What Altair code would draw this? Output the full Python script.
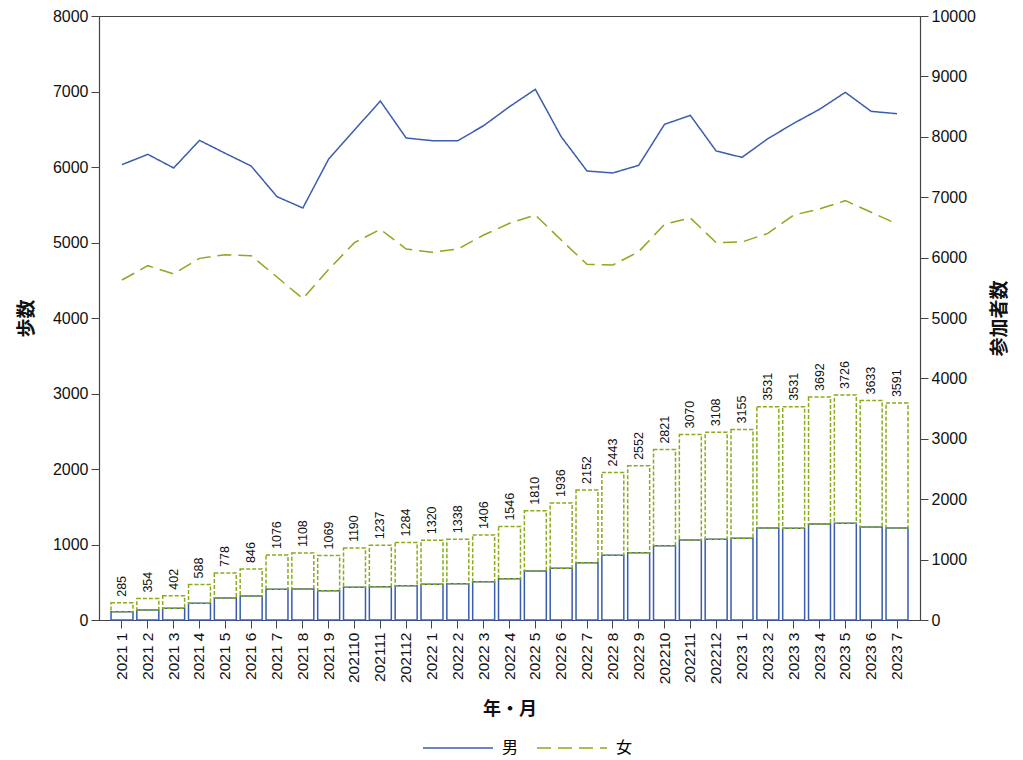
import altair as alt
import pandas as pd

months = ["2021 1", "2021 2", "2021 3", "2021 4", "2021 5", "2021 6", "2021 7", "2021 8",
          "2021 9", "202110", "202111", "202112", "2022 1", "2022 2", "2022 3", "2022 4",
          "2022 5", "2022 6", "2022 7", "2022 8", "2022 9", "202210", "202211", "202212",
          "2023 1", "2023 2", "2023 3", "2023 4", "2023 5", "2023 6", "2023 7"]
total_n = [285, 354, 402, 588, 778, 846, 1076, 1108, 1069, 1190, 1237, 1284, 1320, 1338, 1406, 1546,
           1810, 1936, 2152, 2443, 2552, 2821, 3070, 3108, 3155, 3531, 3531, 3692, 3726, 3633, 3591]
male_n = [137, 166, 193, 276, 364, 397, 508, 513, 485, 541, 552, 568, 591, 601, 634, 684,
          811, 855, 949, 1071, 1115, 1231, 1325, 1336, 1352, 1523, 1517, 1589, 1600, 1540, 1523]
male_steps = [6031, 6168, 5987, 6353, 6181, 6013, 5607, 5457, 6106, 6490, 6874, 6384, 6349, 6349, 6548, 6799,
              7029, 6402, 5947, 5921, 6022, 6565, 6684, 6212, 6128, 6375, 6578, 6764, 6989, 6737, 6706]
female_steps = [4503, 4693, 4583, 4790, 4839, 4826, 4543, 4256, 4645, 4998, 5175, 4914, 4870, 4914, 5099, 5254,
                5364, 5033, 4711, 4702, 4878, 5241, 5325, 4998, 5007, 5121, 5364, 5444, 5554, 5400, 5245]
sexes = ["男", "女"]

BLUE = "#3a5dae"
GREEN = "#8aab1c"
FONT = "Arial, 'Liberation Sans', 'Noto Sans CJK JP', sans-serif"
CJK = "'Noto Sans CJK JP', sans-serif"

bars_df = pd.DataFrame({"month": months, "total": total_n, "male": male_n})
lines_df = pd.concat([
    pd.DataFrame({"month": months, "steps": male_steps, "sex": sexes[0]}),
    pd.DataFrame({"month": months, "steps": female_steps, "sex": sexes[1]}),
])

x_enc = alt.X("month:N", sort=months,
              scale=alt.Scale(paddingInner=0.15, paddingOuter=0.465),
              axis=alt.Axis(title="年・月", labelAngle=270, labelFontSize=15.5, titleFontSize=18,
                            titleFont=CJK, titleFontWeight="bold", tickSize=8, labelPadding=4,
                            titlePadding=17))

right_axis = alt.Axis(orient="right", title="参加者数", values=list(range(0, 10001, 1000)),
                      format="d", grid=False, labelFontSize=16, titleFontSize=19, titleFont=CJK,
                      titleFontWeight="bold", titleAngle=270, tickSize=8, labelPadding=3,
                      titlePadding=34)
right_scale = alt.Scale(domain=[0, 10000], nice=False)

base_b = alt.Chart(bars_df)
male_bar = base_b.mark_bar(fill="white", stroke=BLUE, strokeWidth=1.5).encode(
    x=x_enc,
    y=alt.Y("male:Q", scale=right_scale, axis=right_axis),
)
female_bar = base_b.mark_bar(fill="white", fillOpacity=0, stroke=GREEN, strokeWidth=1.5,
                             strokeDash=[4, 2]).encode(
    x=x_enc,
    y=alt.Y("male:Q", scale=right_scale, axis=right_axis),
    y2="total:Q",
)
labels = base_b.mark_text(angle=270, align="left", baseline="middle", dx=6, fontSize=12.5,
                          font=FONT, color="#111").encode(
    x=x_enc,
    y=alt.Y("total:Q", scale=right_scale, axis=right_axis),
    text="total:Q",
)
bars = alt.layer(male_bar, female_bar, labels)

leg = alt.Legend(title=None, orient="none", legendX=323, legendY=696,
                 direction="horizontal", symbolType="stroke", symbolSize=4900,
                 symbolStrokeWidth=1.5, labelFontSize=16, labelFont=CJK,
                 labelOffset=8, columnPadding=15)

lines = alt.Chart(lines_df).mark_line(strokeWidth=1.5).encode(
    x=x_enc,
    y=alt.Y("steps:Q", scale=alt.Scale(domain=[0, 8000], nice=False),
            axis=alt.Axis(orient="left", title="歩数", values=list(range(0, 8001, 1000)),
                          format="d", grid=False, labelFontSize=16, titleFontSize=19,
                          titleFont=CJK, titleFontWeight="bold", tickSize=8, labelPadding=3,
                          titlePadding=16)),
    color=alt.Color("sex:N", sort=sexes,
                    scale=alt.Scale(domain=sexes, range=[BLUE, GREEN]),
                    legend=leg),
    strokeDash=alt.StrokeDash("sex:N", sort=sexes,
                              scale=alt.Scale(domain=sexes, range=[[1, 0], [14, 7]]),
                              legend=leg),
)

chart = alt.layer(bars, lines).resolve_scale(y="independent").properties(
    width=821, height=604,
    autosize=alt.AutoSizeParams(type="none"),
    padding={"left": 91, "top": 8, "right": 95, "bottom": 140},
).configure(font=FONT).configure_view(
    stroke="#444", strokeWidth=1
).configure_axis(
    domainColor="#444", tickColor="#444", labelColor="#111", titleColor="#111",
    labelFont=FONT, domainWidth=1.2,
)

chart.save("out.html", embed_options={"renderer": "svg", "actions": False})
